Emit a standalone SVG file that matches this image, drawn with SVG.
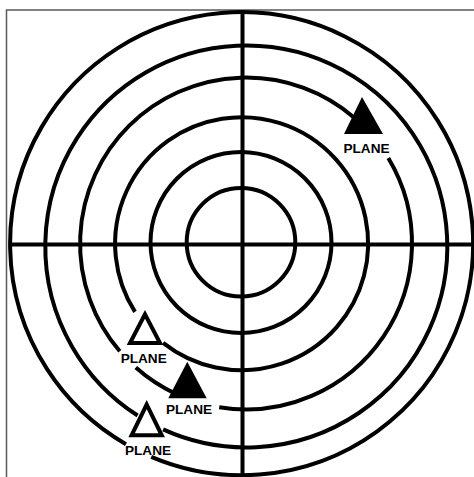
<svg xmlns="http://www.w3.org/2000/svg" width="474" height="477" viewBox="0 0 474 477">
<style>
.ring{fill:none;stroke:#000;stroke-width:4;stroke-linecap:butt}
.axis{stroke:#000;stroke-width:4}
.lbl{font-family:"Liberation Sans",Arial,sans-serif;font-weight:bold;font-size:13.6px;fill:#000;text-anchor:middle}
.hollow{fill:#fff;stroke:#000;stroke-width:4;stroke-linejoin:miter}
.solid{fill:#000;stroke:none}
</style>
<rect x="0" y="0" width="474" height="477" fill="#fff"/>
<path d="M6.5,477 V10 H474" fill="none" stroke="#5a5a5a" stroke-width="1.5"/>
<g id="connectors">
<circle class="ring" cx="241" cy="242.3" r="54.3"/>
<circle class="ring" cx="241" cy="242.5" r="90.5"/>
<path class="ring" d="M135,311.8 A126.5 126.5 0 1 1 163.1,342.9"/>
<path class="ring" d="M388.3,158 A166 166 0 0 1 219.2,407.3"/>
<path class="ring" d="M175.8,393.9 A166 166 0 0 1 135.8,367.6"/>
<path class="ring" d="M119.8,351.3 A166 166 0 0 1 354.9,118.2"/>
<path class="ring" d="M137.6,415.5 A201 201 0 1 1 163.1,429.4"/>
<path class="ring" d="M125.95,444.2 A231.5 231.5 0 1 1 151.25,456.8"/>
<line class="axis" x1="242.5" y1="12" x2="242.5" y2="477"/>
<line class="axis" x1="9" y1="244.5" x2="474" y2="244.5"/>
</g>
<g id="plane-ne">
<polygon class="solid" points="344,134 362,97 383,134"/>
<text class="lbl" x="366.5" y="153">PLANE</text>
</g>
<g id="plane-sw1">
<polygon class="hollow" points="145,314.3 130,343 160,343"/>
<text class="lbl" x="143.7" y="362.7">PLANE</text>
</g>
<g id="plane-sw2">
<polygon class="solid" points="168.3,398.3 187.3,361.7 206.7,398.3"/>
<text class="lbl" x="189" y="414">PLANE</text>
</g>
<g id="plane-sw3">
<polygon class="hollow" points="146.7,404.5 131.6,435.3 161.8,435.3"/>
<text class="lbl" x="148" y="455">PLANE</text>
</g>
</svg>
